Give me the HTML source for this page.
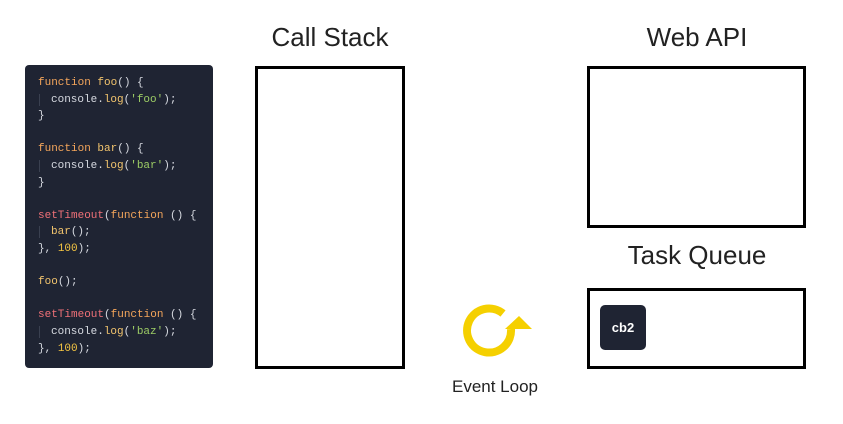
<!DOCTYPE html>
<html><head><style>
body{margin:0;width:843px;height:424px;background:#fff;position:relative;font-family:"Liberation Sans",sans-serif;overflow:hidden}
.t{position:absolute;font-size:26px;color:#222;text-align:center}
.b{position:absolute;border:3px solid #000;box-sizing:border-box}
.code{position:absolute;left:25px;top:65px;width:188px;height:303px;background:#1f2433;border-radius:4px;box-sizing:border-box;padding:10px 0 0 13px;font-family:"Liberation Mono",monospace;font-size:11px;line-height:16.6px;color:#d6d9e0;white-space:pre}
.k{color:#f5a65b}.f{color:#f2c46d}.s{color:#9ccc65}.r{color:#f07178}.n{color:#f5c542}
.i{border-left:1px solid #3a4050;margin-left:1px;padding-left:11px}
</style></head><body>
<div class="t" style="left:255px;top:22px;width:150px">Call Stack</div>
<div class="t" style="left:587px;top:22px;width:220px">Web API</div>
<div class="t" style="left:587px;top:240px;width:220px">Task Queue</div>
<div class="code"><span class="k">function</span> <span class="f">foo</span>() {
<span class="i">console.<span class="f">log</span>(<span class="s">'foo'</span>);</span>
}

<span class="k">function</span> <span class="f">bar</span>() {
<span class="i">console.<span class="f">log</span>(<span class="s">'bar'</span>);</span>
}

<span class="r">setTimeout</span>(<span class="k">function</span> () {
<span class="i"><span class="f">bar</span>();</span>
}, <span class="n">100</span>);

<span class="f">foo</span>();

<span class="r">setTimeout</span>(<span class="k">function</span> () {
<span class="i">console.<span class="f">log</span>(<span class="s">'baz'</span>);</span>
}, <span class="n">100</span>);</div>
<div class="b" style="left:255px;top:66px;width:150px;height:303px"></div>
<div class="b" style="left:587px;top:66px;width:219px;height:162px"></div>
<div class="b" style="left:587px;top:288px;width:219px;height:81px"></div>
<div style="position:absolute;left:600px;top:305px;width:46px;height:45px;background:#1f2433;border-radius:5px;color:#fff;font-size:13px;font-weight:bold;line-height:45px;text-align:center">cb2</div>
<svg style="position:absolute;left:455px;top:295px" width="90" height="70">
<path d="M48 18.5 A22 22 0 1 0 56 34" fill="none" stroke="#f5d000" stroke-width="8"/>
<polygon points="50,34 77,34 64,21" fill="#f5d000"/>
</svg>
<div style="position:absolute;left:430px;top:377px;width:130px;text-align:center;font-size:17px;color:#222">Event Loop</div>
</body></html>
